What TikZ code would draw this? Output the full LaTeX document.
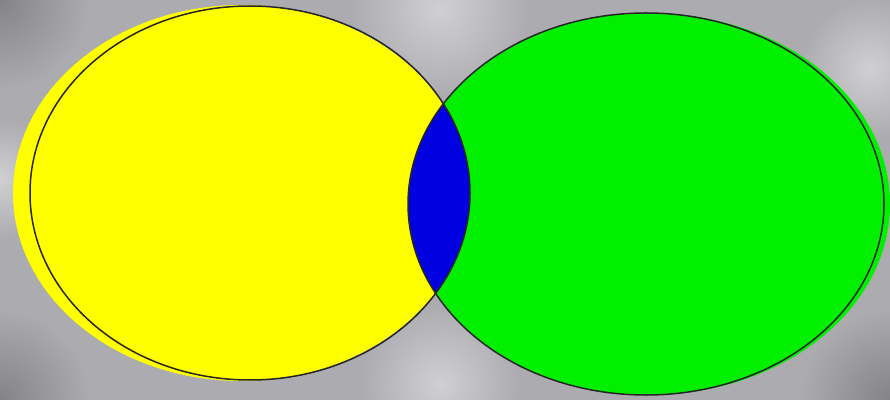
\documentclass[tikz,border=0pt]{standalone}
\definecolor{bggray}{RGB}{172,172,176}
\definecolor{bglight}{RGB}{208,208,211}
\definecolor{bgdark}{RGB}{132,132,136}
\definecolor{vyellow}{RGB}{255,255,0}
\definecolor{vgreen}{RGB}{0,240,0}
\definecolor{vblue}{RGB}{0,0,225}
\tikzset{
  outline/.style={draw=black!85, line width=1.5pt},
}
\begin{document}
\begin{tikzpicture}[x=1pt,y=1pt]
\useasboundingbox (0,0) rectangle (890,399);
\clip (0,0) rectangle (890,399);
% background
\fill[bggray] (-5,-5) rectangle (895,404);
\shade[inner color=bgdark, outer color=bggray] (0,399) circle (90);
\shade[inner color=bgdark, outer color=bggray] (0,0) circle (90);
\shade[inner color=bgdark, outer color=bggray] (890,0) circle (90);
\shade[inner color=bglight, outer color=bggray] (440,390) circle (90);
\shade[inner color=bglight, outer color=bggray] (440,15) circle (80);
\shade[inner color=bglight, outer color=bggray] (0,220) circle (60);
\shade[inner color=bglight, outer color=bggray] (870,330) circle (70);
% fills
\fill[vyellow] (241.5,206) ellipse [x radius=228.5, y radius=188];
\fill[vgreen] (649,195) ellipse [x radius=241, y radius=191];
% intersection
\begin{scope}
  \clip (250,206) ellipse [x radius=220, y radius=187];
  \fill[vblue] (646,195) ellipse [x radius=238, y radius=191];
\end{scope}
% outlines
\draw[outline] (250,206) ellipse [x radius=220, y radius=187];
\draw[outline] (646,195) ellipse [x radius=238, y radius=191];
\end{tikzpicture}
\end{document}
